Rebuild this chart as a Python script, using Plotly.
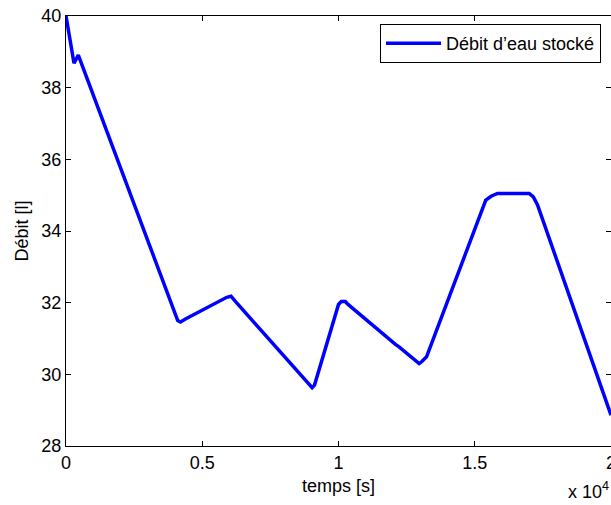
import plotly.graph_objects as go

# Data
temps = [0, 246, 294, 452, 4100, 4200, 4400, 5900, 6055, 6200, 8950, 9033, 9120,
         10000, 10100, 10250, 10350, 12000, 12100, 12200, 12900, 12960, 13050, 13231,
         15404, 15600, 15834, 17000, 17150, 17304, 20000]
debit = [40.0, 38.96, 38.68, 38.91, 31.50, 31.46, 31.55, 32.15, 32.18, 32.05, 29.70, 29.63, 29.70,
         31.95, 32.03, 32.03, 31.95, 30.87, 30.83, 30.78, 30.33, 30.30, 30.35, 30.49,
         34.86, 34.97, 35.05, 35.05, 34.95, 34.73, 28.86]

x_tickvals = [0, 5000, 10000, 15000, 20000]
x_ticktext = ["0", "0.5", "1", "1.5", "2"]
y_tickvals = [28, 30, 32, 34, 36, 38, 40]

FONT = "Arial, Liberation Sans, Helvetica, sans-serif"
FS = 18

fig = go.Figure()
fig.add_trace(go.Scatter(
    x=temps, y=debit, mode="lines",
    name="Débit d’eau stocké",
    line=dict(color="#0000ff", width=3.5),
))

axis_common = dict(
    showline=True, linecolor="black", linewidth=1, mirror="ticks",
    ticks="inside", ticklen=5, tickcolor="black", tickwidth=1,
    showgrid=False, zeroline=False, automargin=False,
    tickfont=dict(family=FONT, size=FS, color="black"),
    ticklabeloverflow="allow",
)

fig.update_layout(
    width=611, height=505,
    margin=dict(l=66, r=0, t=16, b=59),
    paper_bgcolor="white", plot_bgcolor="white",
    font=dict(family=FONT, size=FS, color="black"),
    showlegend=True,
    legend=dict(
        x=0.9817, y=0.981, xanchor="right", yanchor="top",
        bordercolor="black", borderwidth=1, bgcolor="white",
        font=dict(family=FONT, size=FS, color="black"),
        itemwidth=55,
    ),
    xaxis=dict(
        range=[0, 20000], tickvals=x_tickvals, ticktext=x_ticktext,
        title=dict(text="temps [s]", font=dict(family=FONT, size=FS), standoff=7),
        **axis_common,
    ),
    yaxis=dict(
        range=[28, 40], tickvals=y_tickvals,
        title=dict(text="Débit [l]", font=dict(family=FONT, size=FS), standoff=8),
        **axis_common,
    ),
    annotations=[dict(
        text="x 10<sup>4</sup>", xref="paper", yref="paper",
        x=1.0, y=-0.072, xanchor="right", yanchor="top", showarrow=False,
        font=dict(family=FONT, size=FS, color="black"),
    )],
)

fig.write_html(
    "out.html",
    config={"displayModeBar": False},
    post_script="document.body.style.margin='0px';document.body.style.overflow='hidden';",
)
